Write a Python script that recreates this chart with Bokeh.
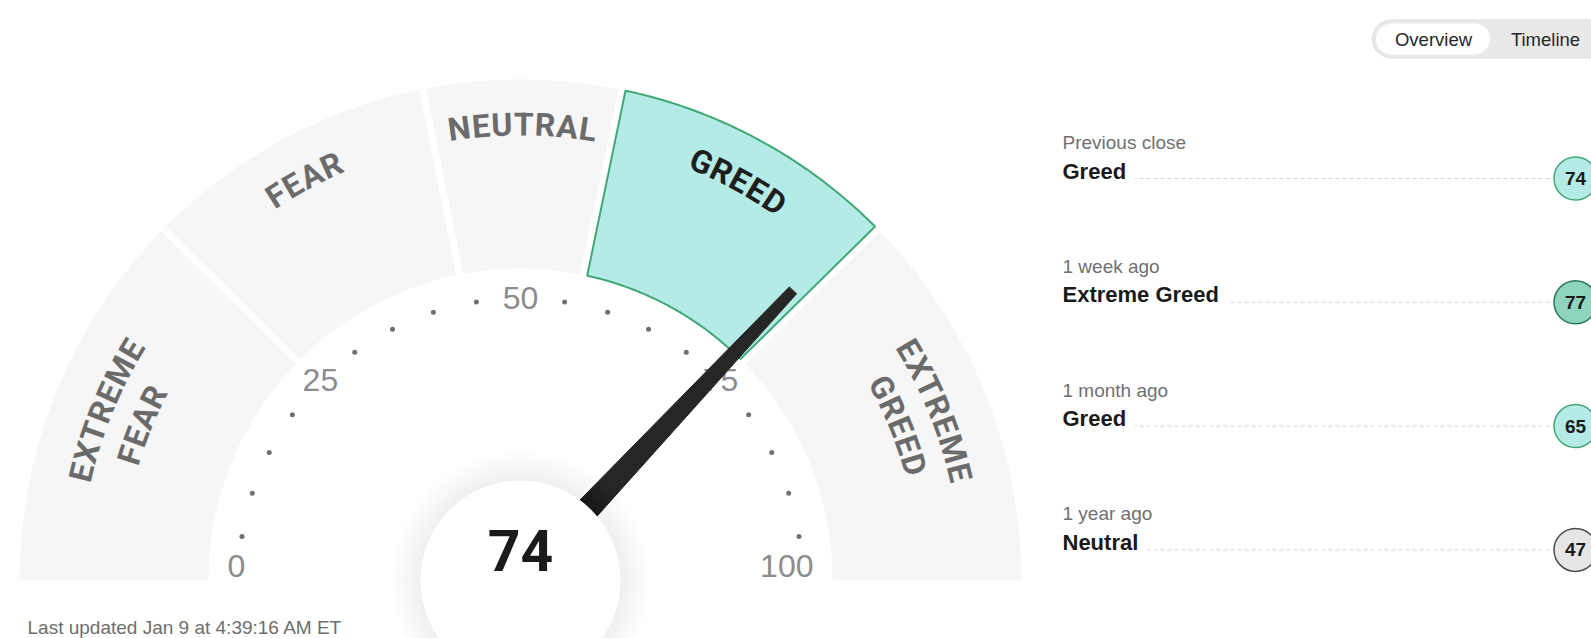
import math
from bokeh.plotting import figure
from bokeh.models import Range1d, ColumnDataSource
from bokeh.core.properties import value
from bokeh.embed import file_html
from bokeh.resources import INLINE

# ---------------- data ----------------
current_value = 74
zone_names = ["EXTREME FEAR", "FEAR", "NEUTRAL", "GREED", "EXTREME GREED"]
zone_bounds = [0, 24.75, 43.75, 56.5, 75.25, 100]
scale_ticks = [0, 25, 50, 75, 100]
minor_ticks = [5, 10, 15, 20, 30, 35, 40, 45, 55, 60, 65, 70, 80, 85, 90, 95]
hist_periods = ["Previous close", "1 week ago", "1 month ago", "1 year ago"]
hist_ratings = ["Greed", "Extreme Greed", "Greed", "Neutral"]
hist_values = [74, 77, 65, 47]
toggle_labels = ["Overview", "Timeline"]
updated_text = "Last updated Jan 9 at 4:39:16 AM ET"

# ---------------- styles ----------------
W, H = 1591, 638
def py(page_y):
    return H - page_y

CX, CY = 520, py(580)
R_OUT, R_IN = 501, 312
GAP = 7
LABEL_FONT = "Roboto"
SANS = "Liberation Sans"

def ang(v):
    return math.pi * (1 - v / 100.0)

p = figure(width=W, height=H, x_range=Range1d(0, W), y_range=Range1d(0, H),
           output_backend="svg", toolbar_location=None, min_border=0,
           x_axis_location=None, y_axis_location=None)
p.grid.visible = False
p.outline_line_color = None
p.background_fill_color = "white"
p.border_fill_color = "white"

# ---------------- gauge segments ----------------
def zone_index(v):
    for i in range(len(zone_names)):
        if zone_bounds[i] <= v < zone_bounds[i + 1] or (i == len(zone_names) - 1 and v == 100):
            return i
    return 0

active = zone_index(current_value)

def seg_poly(a, b):
    ta, tb = ang(a), ang(b)
    h = GAP / 2.0
    xs, ys = [], []
    n = 80
    da_o = math.asin(h / R_OUT) if a > 0 else 0
    db_o = math.asin(h / R_OUT) if b < 100 else 0
    da_i = math.asin(h / R_IN) if a > 0 else 0
    db_i = math.asin(h / R_IN) if b < 100 else 0
    s, e = ta - da_o, tb + db_o
    for k in range(n + 1):
        t = s + (e - s) * k / n
        xs.append(CX + R_OUT * math.cos(t)); ys.append(CY + R_OUT * math.sin(t))
    s, e = tb + db_i, ta - da_i
    for k in range(n + 1):
        t = s + (e - s) * k / n
        xs.append(CX + R_IN * math.cos(t)); ys.append(CY + R_IN * math.sin(t))
    return xs, ys

gx, gy, gfill = [], [], []
for i in range(len(zone_names)):
    xs, ys = seg_poly(zone_bounds[i], zone_bounds[i + 1])
    gx.append(xs); gy.append(ys)
    gfill.append("#b5ebe6" if i == active else "#f6f6f6")
p.patches(xs="xs", ys="ys", fill_color="fill", line_color=None,
          source=ColumnDataSource(dict(xs=gx, ys=gy, fill=gfill)))
p.patches(xs=[gx[active]], ys=[gy[active]], fill_color=None, line_color="#3fa874", line_width=2)

# ---------------- curved zone labels ----------------
REL = {"A": .670, "D": .650, "E": .565, "F": .555, "G": .680, "L": .545, "M": .875,
       "N": .710, "R": .630, "T": .610, "U": .655, "X": .640}
FS = 32
TR = 1.5
cx_l, cy_l, ch_l, an_l, col_l = [], [], [], [], []
for i, name in enumerate(zone_names):
    mid = (zone_bounds[i] + zone_bounds[i + 1]) / 2.0
    tm = ang(mid)
    lines = name.split(" ")
    radii = [456] if len(lines) == 1 else [452, 410]
    for line, r in zip(lines, radii):
        w = [REL.get(c, .65) * FS for c in line]
        L = sum(w) + TR * (len(line) - 1)
        acc = -L / 2.0
        for j, c in enumerate(line):
            s = acc + w[j] / 2.0
            acc += w[j] + TR
            t = tm - s / r
            cx_l.append(CX + r * math.cos(t)); cy_l.append(CY + r * math.sin(t))
            ch_l.append(c); an_l.append(t - math.pi / 2)
            col_l.append("#1e1e1e" if i == active else "#6b6b6b")
p.text(x="x", y="y", text="t", angle="a", text_color="c",
       source=ColumnDataSource(dict(x=cx_l, y=cy_l, t=ch_l, a=an_l, c=col_l)),
       text_font=value(LABEL_FONT), text_font_style="bold", text_font_size=f"{FS}px",
       text_align="center", text_baseline="middle")

# ---------------- scale ticks ----------------
tx, ty, tt, tal = [], [], [], []
for v in scale_ticks:
    t = ang(v)
    if v in (0, 100):
        tx.append(CX + 293 * math.cos(t)); ty.append(CY + 15)
        tal.append("left" if v == 0 else "right")
    else:
        tx.append(CX + 283 * math.cos(t)); ty.append(CY + 283 * math.sin(t))
        tal.append("center")
    tt.append(str(v))
p.text(x="x", y="y", text="t", text_align="al",
       source=ColumnDataSource(dict(x=tx, y=ty, t=tt, al=tal)),
       text_font=value(SANS), text_font_size="32px", text_color="#8c8c8c",
       text_baseline="middle")

mx = [CX + 282 * math.cos(ang(v)) for v in minor_ticks]
my = [CY + 282 * math.sin(ang(v)) for v in minor_ticks]
p.scatter(mx, my, marker="circle", size=5, fill_color="#707070", line_color=None)

# ---------------- needle ----------------
tn = ang(current_value)
ux, uy = math.cos(tn), math.sin(tn)
nx, ny = -math.sin(tn), math.cos(tn)
L_N, HW0, HW1 = 398, 14, 5
p.patch([CX + HW0 * nx, CX + L_N * ux + HW1 * nx, CX + L_N * ux - HW1 * nx, CX - HW0 * nx],
        [CY + HW0 * ny, CY + L_N * uy + HW1 * ny, CY + L_N * uy - HW1 * ny, CY - HW0 * ny],
        fill_color="#262626", line_color="#262626", line_width=1)

# ---------------- centre disc ----------------
for k in range(15):
    r = 130 - 2 * k
    p.circle(x=[CX], y=[CY], radius=r, fill_color="black", fill_alpha=0.0035, line_color=None)
p.circle(x=[CX], y=[CY], radius=100, fill_color="white", line_color=None)
p.text(x=[CX], y=[py(550)], text=[str(current_value)], text_font=value(LABEL_FONT),
       text_font_style="bold", text_font_size="57px", text_color="#1a1a1a",
       text_align="center", text_baseline="middle")

# ---------------- toggle ----------------
TY = py(38.5)
p.quad(left=[1391], right=[1600], top=[py(19)], bottom=[py(58)], fill_color="#dedede", line_color=None)
p.circle(x=[1391], y=[TY], radius=19.5, fill_color="#dedede", line_color=None)
p.quad(left=[1391], right=[1600], top=[py(20)], bottom=[py(57)], fill_color="#e9e9e9", line_color=None)
p.circle(x=[1391], y=[TY], radius=18.5, fill_color="#e9e9e9", line_color=None)
p.quad(left=[1391], right=[1474], top=[py(23)], bottom=[py(54)], fill_color="white", line_color=None)
p.circle(x=[1391, 1474], y=[TY, TY], radius=15.5, fill_color="white", line_color=None)
p.text(x=[1433, 1545], y=[TY, TY], text=toggle_labels, text_font=value(SANS),
       text_font_size="18.5px", text_color="#262626", text_align="center", text_baseline="middle")

# ---------------- history list ----------------
STEP = 123.8
per_y = [py(142 + STEP * k) for k in range(len(hist_periods))]
rat_y = [py(170.5 + STEP * k) for k in range(len(hist_periods))]
cir_y = [py(178 + STEP * k) for k in range(len(hist_periods))]
fills = {"Extreme Fear": "#f4b7b2", "Fear": "#f9d7d3", "Neutral": "#e6e6e6",
         "Greed": "#b5ebe6", "Extreme Greed": "#8fd4bf"}
lines_c = {"Extreme Fear": "#b33333", "Fear": "#d66666", "Neutral": "#4d4d4d",
           "Greed": "#43a877", "Extreme Greed": "#2e7b5a"}

p.segment(x0=[1062] * 4, x1=[1553] * 4, y0=cir_y, y1=cir_y, line_color="#d4d4d4",
          line_width=1, line_dash="4 3")
p.text(x=[1053] * 4, y=rat_y, text=hist_ratings, text_font=value(SANS),
       text_font_style="bold", text_font_size="22px", text_color="#1a1a1a",
       text_baseline="middle", background_fill_color="white", padding=9)
p.text(x=[1062] * 4, y=per_y, text=hist_periods, text_font=value(SANS),
       text_font_size="19px", text_color="#707070", text_baseline="middle")
p.circle(x=[1575] * 4, y=cir_y, radius=21.5,
         fill_color=[fills[r] for r in hist_ratings],
         line_color=[lines_c[r] for r in hist_ratings], line_width=1.5)
p.text(x=[1575] * 4, y=cir_y, text=[str(v) for v in hist_values], text_font=value(SANS),
       text_font_style="bold", text_font_size="19px", text_color="#1a1a1a",
       text_align="center", text_baseline="middle")

# ---------------- footer ----------------
p.text(x=[27], y=[py(627)], text=[updated_text], text_font=value(SANS),
       text_font_size="19px", text_color="#6e6e6e", text_baseline="middle")

open("out.html", "w").write(file_html(p, INLINE))
